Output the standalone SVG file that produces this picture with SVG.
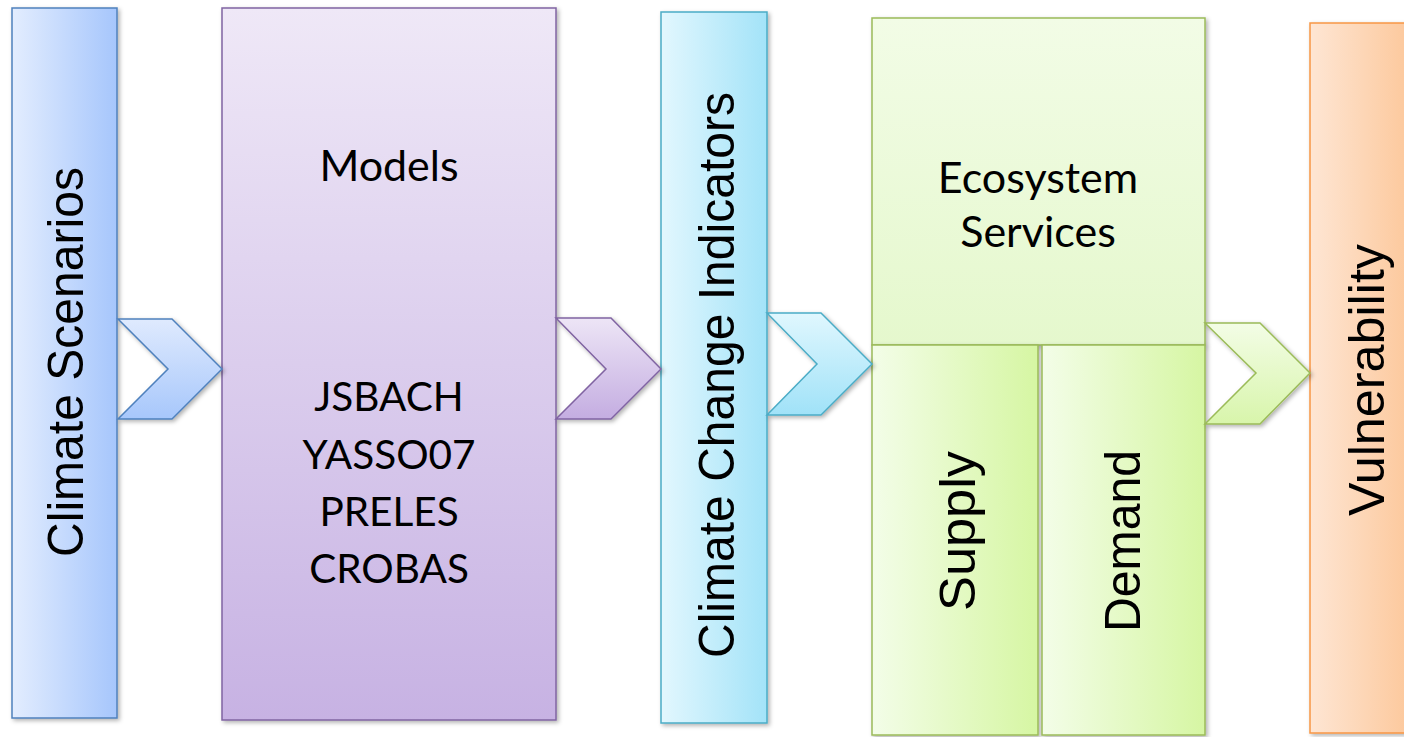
<svg xmlns="http://www.w3.org/2000/svg" width="1404" height="737" viewBox="0 0 1404 737">
<defs>
<linearGradient id="gBlueH" x1="0" y1="0" x2="1" y2="0"><stop offset="0" stop-color="#e3edfe"/><stop offset="1" stop-color="#a6c6fc"/></linearGradient>
<linearGradient id="gBlueV" x1="0" y1="0" x2="0" y2="1"><stop offset="0" stop-color="#dfeafe"/><stop offset="1" stop-color="#a7c7fb"/></linearGradient>
<linearGradient id="gPurV" x1="0" y1="0" x2="0" y2="1"><stop offset="0" stop-color="#efe8f7"/><stop offset="1" stop-color="#c7b2e3"/></linearGradient>
<linearGradient id="gPurC" x1="0" y1="0" x2="0" y2="1"><stop offset="0" stop-color="#ede5f6"/><stop offset="1" stop-color="#c4ade1"/></linearGradient>
<linearGradient id="gCyanH" x1="0" y1="0" x2="1" y2="0"><stop offset="0" stop-color="#e2f7fe"/><stop offset="1" stop-color="#a3e3f8"/></linearGradient>
<linearGradient id="gCyanV" x1="0" y1="0" x2="0" y2="1"><stop offset="0" stop-color="#e0f7fe"/><stop offset="1" stop-color="#a0e2f8"/></linearGradient>
<linearGradient id="gGreenTop" x1="0" y1="0" x2="0" y2="1"><stop offset="0" stop-color="#f2fce6"/><stop offset="1" stop-color="#e5f8cd"/></linearGradient>
<linearGradient id="gGreenH" x1="0" y1="0" x2="1" y2="0"><stop offset="0" stop-color="#f3fde8"/><stop offset="1" stop-color="#d6f6a3"/></linearGradient>
<linearGradient id="gGreenV" x1="0" y1="0" x2="0" y2="1"><stop offset="0" stop-color="#f3fde6"/><stop offset="1" stop-color="#d8f5ab"/></linearGradient>
<linearGradient id="gOrangeH" x1="0" y1="0" x2="1" y2="0"><stop offset="0" stop-color="#fee6d4"/><stop offset="1" stop-color="#fcc596"/></linearGradient>
<filter id="sh" x="-10%" y="-10%" width="130%" height="130%"><feDropShadow dx="2" dy="2" stdDeviation="2" flood-color="#000" flood-opacity="0.3"/></filter>
</defs>
<style>
.rt{font-family:"Liberation Sans",Arial,sans-serif;font-size:50px;fill:#000;text-anchor:middle}
.ct{font-family:Lato,"Liberation Sans",sans-serif;font-size:43px;fill:#000;text-anchor:middle}
.cc{font-size:40.5px}
.box{stroke-width:1.5;filter:url(#sh)}
.chev{stroke-width:1.5;stroke-linejoin:miter;filter:url(#sh)}
</style>
<g id="climate-scenarios">
<rect class="box" x="12" y="8" width="105" height="710" fill="url(#gBlueH)" stroke="#4f81bd"/>
<text class="rt" transform="translate(83,362) rotate(-90)" textLength="390" lengthAdjust="spacingAndGlyphs">Climate Scenarios</text>
</g>
<g id="models">
<rect class="box" x="222" y="8" width="334" height="712" fill="url(#gPurV)" stroke="#8064a2"/>
<text class="ct" x="389" y="181">Models</text>
<text class="ct cc" x="389" y="411">JSBACH</text>
<text class="ct cc" x="389" y="469">YASSO07</text>
<text class="ct cc" x="389" y="526">PRELES</text>
<text class="ct cc" x="389" y="583">CROBAS</text>
</g>
<g id="climate-change-indicators">
<rect class="box" x="661" y="12" width="106" height="711" fill="url(#gCyanH)" stroke="#4bacc6"/>
<text class="rt" transform="translate(734,375) rotate(-90)" textLength="566" lengthAdjust="spacingAndGlyphs">Climate Change Indicators</text>
</g>
<g id="ecosystem-services">
<rect class="box" x="872" y="18" width="333" height="327" fill="url(#gGreenTop)" stroke="#9bbb59"/>
<text class="ct" x="1038" y="193">Ecosystem</text>
<text class="ct" x="1038" y="247">Services</text>
</g>
<g id="supply">
<rect class="box" x="872" y="345" width="166" height="390" fill="url(#gGreenH)" stroke="#9bbb59"/>
<text class="rt" transform="translate(975,531) rotate(-90)" textLength="160" lengthAdjust="spacingAndGlyphs">Supply</text>
</g>
<g id="demand">
<rect class="box" x="1042" y="345" width="163" height="390" fill="url(#gGreenH)" stroke="#9bbb59"/>
<text class="rt" transform="translate(1140,541) rotate(-90)" textLength="182" lengthAdjust="spacingAndGlyphs">Demand</text>
</g>
<g id="vulnerability">
<rect class="box" x="1310" y="23" width="110" height="710" fill="url(#gOrangeH)" stroke="#f79646"/>
<text class="rt" transform="translate(1384,380) rotate(-90)" textLength="272" lengthAdjust="spacingAndGlyphs">Vulnerability</text>
</g>
<g id="connectors">
<polygon class="chev" points="118,319 172,319 222,369 172,419 118,419 168,369" fill="url(#gBlueV)" stroke="#4f81bd"/>
<polygon class="chev" points="556,318 611,318 661,369 611,419 556,419 606,369" fill="url(#gPurC)" stroke="#8064a2"/>
<polygon class="chev" points="767,313 821,313 872,364 821,415 767,415 817,364" fill="url(#gCyanV)" stroke="#4bacc6"/>
<polygon class="chev" points="1205,323 1260,323 1310,373 1260,424 1205,424 1256,373" fill="url(#gGreenV)" stroke="#9bbb59"/>
</g>
</svg>
